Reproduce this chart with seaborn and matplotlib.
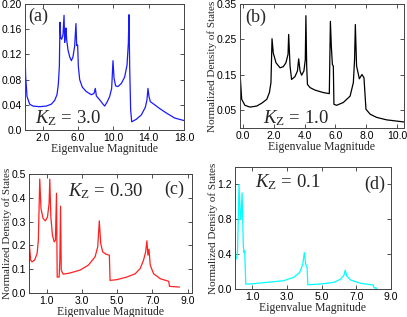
import numpy as np
import pandas as pd
import matplotlib
matplotlib.use("Agg")
import matplotlib.pyplot as plt
import seaborn as sns

# Density of states curves
a_x = [0.0, 0.075, 0.23, 0.53, 0.91, 1.66, 2.42, 2.98, 3.36, 3.62, 3.77, 3.89, 3.96, 4.04,
       4.15, 4.30, 4.42, 4.49, 4.57, 4.64, 4.72, 4.87, 5.06, 5.25, 5.43, 5.62, 5.77, 5.85,
       5.96, 6.04, 6.19, 6.49, 6.94, 7.51, 7.81, 7.96, 8.08, 8.45, 8.83, 9.02, 9.28, 9.58,
       9.81, 9.96, 10.08, 10.26, 10.53, 10.91, 11.28, 11.55, 11.70, 11.77, 11.85, 11.96,
       12.08, 12.60, 13.17, 13.62, 13.81, 13.92, 14.04, 14.19, 14.68, 15.25, 16.0, 16.94, 18.0]
a_y = [0.122, 0.085, 0.053, 0.041, 0.038, 0.037, 0.038, 0.041, 0.047, 0.056, 0.072, 0.101,
       0.171, 0.146, 0.144, 0.151, 0.182, 0.139, 0.149, 0.162, 0.143, 0.127, 0.116, 0.110,
       0.116, 0.133, 0.169, 0.134, 0.135, 0.101, 0.080, 0.068, 0.061, 0.056, 0.058, 0.066,
       0.054, 0.048, 0.041, 0.038, 0.044, 0.053, 0.066, 0.110, 0.082, 0.070, 0.069, 0.074,
       0.084, 0.103, 0.138, 0.183, 0.101, 0.032, 0.013, 0.017, 0.024, 0.036, 0.048, 0.066,
       0.053, 0.045, 0.040, 0.034, 0.027, 0.019, 0.015]

b_x = [-0.18, -0.09, 0.12, 0.45, 0.89, 1.21, 1.54, 1.71, 1.81, 1.88, 1.96, 2.14, 2.40, 2.61,
       2.78, 2.92, 2.96, 3.05, 3.15, 3.37, 3.53, 3.61, 3.70, 3.80, 3.95, 4.04, 4.08, 4.13,
       4.18, 4.35, 4.67, 5.21, 5.60, 5.67, 5.73, 5.80, 5.86, 5.90, 6.07, 6.51, 6.95, 7.16,
       7.24, 7.29, 7.37, 7.55, 7.72, 7.85, 7.98, 8.25, 8.67, 9.32, 10.45]
b_y = [0.142, 0.081, 0.064, 0.059, 0.062, 0.070, 0.081, 0.100, 0.128, 0.252, 0.212, 0.184,
       0.170, 0.173, 0.184, 0.208, 0.264, 0.175, 0.137, 0.145, 0.161, 0.195, 0.161, 0.149,
       0.161, 0.193, 0.317, 0.175, 0.123, 0.114, 0.107, 0.100, 0.097, 0.301, 0.231, 0.179,
       0.175, 0.067, 0.064, 0.072, 0.090, 0.128, 0.193, 0.292, 0.175, 0.139, 0.151, 0.142,
       0.053, 0.039, 0.030, 0.023, 0.017]

c_x = [0.0, 0.095, 0.17, 0.32, 0.46, 0.53, 0.61, 0.68, 0.80, 0.93, 1.05, 1.14, 1.18, 1.24,
       1.33, 1.43, 1.50, 1.56, 1.60, 1.71, 1.75, 1.79, 1.83, 1.94, 2.32, 2.89, 3.37, 3.75,
       3.90, 3.99, 4.07, 4.18, 4.37, 4.56, 4.60, 4.98, 5.55, 6.03, 6.31, 6.50, 6.62, 6.69,
       6.75, 6.81, 6.88, 7.07, 7.45, 7.93, 7.97, 8.54]
c_y = [0.222, 0.138, 0.131, 0.138, 0.166, 0.222, 0.479, 0.355, 0.313, 0.303, 0.320, 0.376,
       0.478, 0.320, 0.243, 0.215, 0.222, 0.419, 0.067, 0.067, 0.138, 0.365, 0.096, 0.079,
       0.084, 0.096, 0.117, 0.152, 0.194, 0.303, 0.208, 0.173, 0.163, 0.159, 0.053, 0.056,
       0.067, 0.081, 0.103, 0.138, 0.173, 0.219, 0.159, 0.184, 0.117, 0.081, 0.060, 0.049,
       0.028, 0.025]

d_x = [0.0, 0.10, 0.15, 0.23, 0.31, 0.35, 0.41, 0.48, 0.52, 0.56, 0.62, 0.87, 1.84, 2.80,
       3.38, 3.73, 3.91, 4.00, 4.08, 4.16, 4.20, 4.93, 5.71, 6.09, 6.29, 6.36, 6.44, 6.67,
       7.25, 7.97, 8.03, 8.18]
d_y = [0.323, 0.361, 0.456, 1.198, 0.799, 0.837, 1.103, 0.494, 0.418, 0.437, 0.057, 0.057,
       0.076, 0.095, 0.133, 0.190, 0.285, 0.418, 0.285, 0.247, 0.049, 0.057, 0.076, 0.114,
       0.160, 0.217, 0.152, 0.103, 0.065, 0.046, 0.015, 0.008]

a_xticks = [2, 6, 10, 14, 18]
a_yticks = [0.0, 0.04, 0.08, 0.12, 0.16, 0.20]
a_yticklabels = ["0.0", "0.04", "0.08", "0.12", "0.16", "0.20"]
b_xticks = [0, 2, 4, 6, 8, 10]
b_yticks = [0.05, 0.15, 0.25, 0.35]
c_xticks = [1, 3, 5, 7, 9]
c_yticks = [0.0, 0.1, 0.2, 0.3, 0.4, 0.5]
d_xticks = [1, 3, 5, 7, 9]
d_yticks = [0.0, 0.4, 0.8, 1.2]

sns.set_style("ticks")
plt.rcParams['font.family'] = ['Liberation Sans', 'DejaVu Sans']
plt.rcParams['mathtext.fontset'] = 'custom'
plt.rcParams['mathtext.rm'] = 'Liberation Serif'
plt.rcParams['mathtext.it'] = 'Liberation Serif:italic'

serif = ['Liberation Serif', 'DejaVu Serif']

fig = plt.figure(figsize=(4.07, 3.17), dpi=100)
W, H = 407, 317


def make_ax(left, right, top, bottom):
    return fig.add_axes([left / W, (H - bottom) / H, (right - left) / W, (bottom - top) / H])


ax_a = make_ax(25, 184, 4, 130)
ax_b = make_ax(240, 404, 4, 128)
ax_c = make_ax(29, 192, 174, 293)
ax_d = make_ax(235, 391, 167, 289)

panels = [
    (ax_a, a_x, a_y, "#1a1aff", (0, 18), (0, 0.20), a_xticks, a_yticks, a_yticklabels, False),
    (ax_b, b_x, b_y, "black", (-0.2, 10.45), (0, 0.35), b_xticks, b_yticks, None, True),
    (ax_c, c_x, c_y, "#ff2020", (0, 9.25), (0, 0.5), c_xticks, c_yticks, None, True),
    (ax_d, d_x, d_y, "#00ffff", (0, 9), (0, 1.4), d_xticks, d_yticks, None, True),
]

for ax, xs, ys, col, xl, yl, xt, yt, ytl, ylab in panels:
    df = pd.DataFrame({"x": xs, "y": ys})
    sns.lineplot(data=df, x="x", y="y", ax=ax, color=col, lw=0.9, estimator=None, sort=False)
    ax.set_xlim(*xl)
    ax.set_ylim(*yl)
    ax.set_xticks(xt)
    ax.set_xticklabels([f"{v:.1f}" for v in xt])
    ax.set_yticks(yt)
    if ytl is None:
        ytl = [f"{v:.2f}" if yl[1] < 0.4 else f"{v:.1f}" for v in yt]
    ax.set_yticklabels(ytl)
    ax.tick_params(direction="in", length=3, width=0.6, labelsize=7.5, pad=2,
                   top=True, right=True, colors="#333333", labelcolor="black")
    for sp in ax.spines.values():
        sp.set_linewidth(0.7)
        sp.set_color("#444444")
    ax.set_xlabel("Eigenvalue Magnitude", family=serif, fontsize=8.5, labelpad=0)
    if ylab:
        ax.set_ylabel("Normalized Density of States", family=serif, fontsize=8, labelpad=0)
    else:
        ax.set_ylabel("")

# panel labels
ax_a.text(0.02, 0.97, "(a)", transform=ax_a.transAxes, family=serif, fontsize=13, va="top")
ax_a.text(0.06, 0.05, r"$K_{\rm Z}$ = 3.0", transform=ax_a.transAxes, family=serif, fontsize=13.5)
ax_b.text(0.03, 0.96, "(b)", transform=ax_b.transAxes, family=serif, fontsize=13, va="top")
ax_b.text(0.14, 0.04, r"$K_{\rm Z}$ = 1.0", transform=ax_b.transAxes, family=serif, fontsize=13.5)
ax_c.text(0.24, 0.81, r"$K_{\rm Z}$ = 0.30", transform=ax_c.transAxes, family=serif, fontsize=13.5)
ax_c.text(0.95, 0.94, "(c)", transform=ax_c.transAxes, family=serif, fontsize=13, va="top", ha="right")
ax_d.text(0.13, 0.83, r"$K_{\rm Z}$ = 0.1", transform=ax_d.transAxes, family=serif, fontsize=13.5)
ax_d.text(0.96, 0.93, "(d)", transform=ax_d.transAxes, family=serif, fontsize=13, va="top", ha="right")

fig.savefig("out.png", dpi=100)
